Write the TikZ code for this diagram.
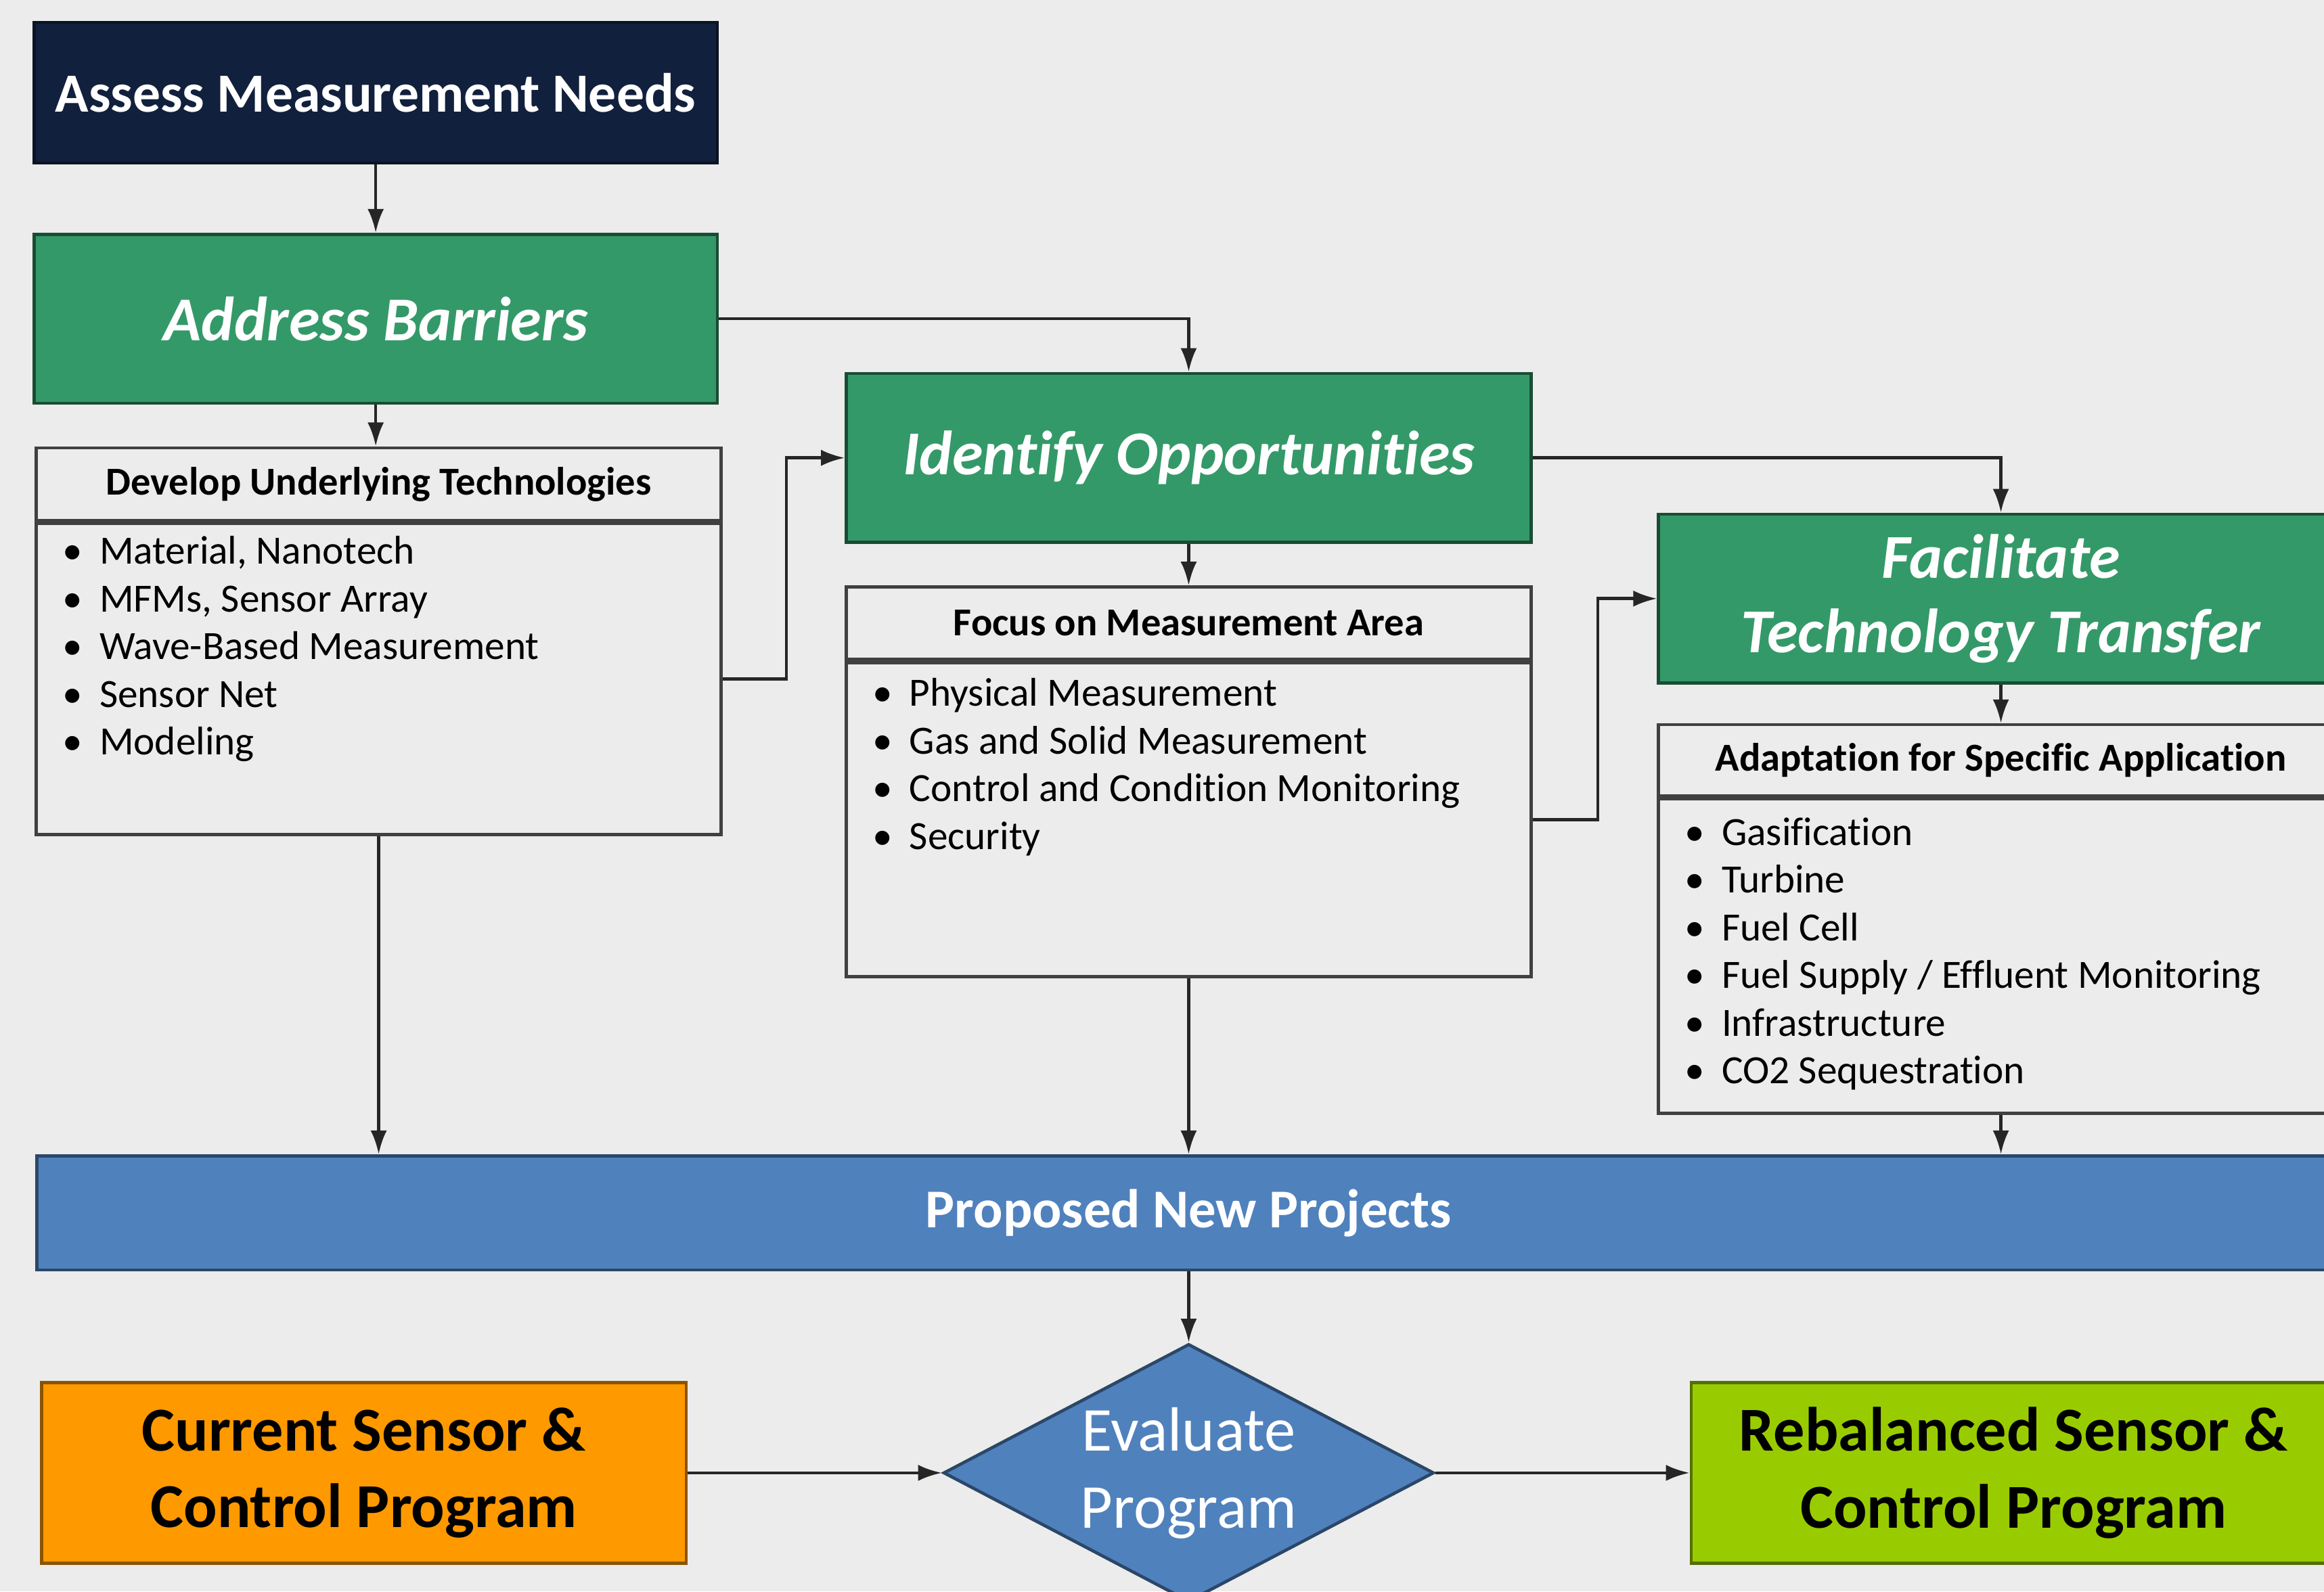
\documentclass[tikz,border=0pt]{standalone}
\usepackage{fontspec}
\setmainfont{Carlito}[Ligatures=NoCommon]
\usetikzlibrary{arrows.meta, positioning, shapes.geometric}
\definecolor{bggray}{RGB}{236,236,236}
\definecolor{navyblue}{RGB}{17,32,60}
\definecolor{stepgreen}{RGB}{52,153,104}
\definecolor{barblue}{RGB}{79,129,189}
\definecolor{myorange}{RGB}{255,153,0}
\definecolor{limegreen}{RGB}{153,204,0}
\newcommand{\listbullet}{\makebox[0.25cm][l]{\textbullet}}

\begin{document}
\begin{tikzpicture}[
    dark_box/.style={draw=navyblue!60!black, line width=0.6pt, fill=navyblue, text=white, minimum width=4.61cm, minimum height=0.95cm, font=\fontsize{10.6}{12}\selectfont\bfseries},
    green_box/.style={draw=stepgreen!50!black, line width=0.6pt, fill=stepgreen, text=white, minimum width=4.62cm, minimum height=1.14cm, align=center, font=\fontsize{12}{14.2}\selectfont\bfseries\itshape},
    head_box/.style={draw=black!75, line width=0.6pt, minimum width=4.62cm, minimum height=0.49cm, inner sep=0pt, font=\fontsize{7.6}{9}\selectfont\bfseries},
    body_box/.style={draw=black!75, line width=0.6pt, minimum width=4.62cm, inner sep=0pt},
    item_list/.style={anchor=north west, inner sep=0pt, align=left, font=\fontsize{7.7}{9.15}\selectfont},
    prog_box/.style={draw=#1!55!black, line width=0.6pt, fill=#1, minimum width=4.35cm, minimum height=1.22cm, align=center, font=\fontsize{12}{14.8}\selectfont\bfseries},
    arrow/.style={-{Latex[length=1.6mm, width=1.1mm]}, line width=0.6pt, draw=black!85}
]

    % Page frame and background
    \useasboundingbox (0,0) rectangle (15.68,10.74);
    \clip (0,0) rectangle (15.68,10.74);
    \fill[bggray] (0,0) rectangle (15.68,10.74);

    % Left column
    \node[dark_box] (assess_needs) at (2.535,10.115) {Assess Measurement Needs};
    \node[green_box, minimum width=4.61cm, below=0.46cm of assess_needs] (address_barriers) {Address Barriers};
    \node[head_box, below=0.28cm of address_barriers, xshift=0.02cm] (dev_head) {Develop Underlying Technologies};
    \node[body_box, minimum height=2.10cm, below=0pt of dev_head] (dev_body) {};
    \node[item_list] (dev_list) at ([xshift=0.18cm, yshift=-0.09cm]dev_body.north west) {\listbullet Material, Nanotech\\ \listbullet MFMs, Sensor Array\\ \listbullet Wave-Based Measurement\\ \listbullet Sensor Net\\ \listbullet Modeling};

    % Middle column
    \node[green_box] (identify_opp) at (8.02,7.65) {Identify Opportunities};
    \node[head_box, below=0.28cm of identify_opp] (focus_head) {Focus on Measurement Area};
    \node[body_box, minimum height=2.12cm, below=0pt of focus_head] (focus_body) {};
    \node[item_list] (focus_list) at ([xshift=0.18cm, yshift=-0.11cm]focus_body.north west) {\listbullet Physical Measurement\\ \listbullet Gas and Solid Measurement\\ \listbullet Control and Condition Monitoring\\ \listbullet Security};

    % Right column (runs off the page)
    \node[green_box] (facilitate_tt) at (13.50,6.70) {Facilitate\\Technology Transfer};
    \node[head_box, minimum height=0.48cm, below=0.26cm of facilitate_tt] (adapt_head) {Adaptation for Specific Application};
    \node[body_box, minimum height=2.12cm, below=0pt of adapt_head] (adapt_body) {};
    \node[item_list] (adapt_list) at ([xshift=0.18cm, yshift=-0.13cm]adapt_body.north west) {\listbullet Gasification\\ \listbullet Turbine\\ \listbullet Fuel Cell\\ \listbullet Fuel Supply / Effluent Monitoring\\ \listbullet Infrastructure\\ \listbullet CO2 Sequestration};

    % Projects bar and evaluation row
    \node[draw=barblue!55!black, line width=0.6pt, fill=barblue, text=white, minimum width=15.54cm, minimum height=0.77cm, font=\fontsize{10.5}{12}\selectfont\bfseries] (new_projects) at (8.02,2.555) {Proposed New Projects};
    \node[diamond, draw=barblue!55!black, line width=0.6pt, fill=barblue, text=white, minimum width=3.31cm, minimum height=1.74cm, aspect=1.9, inner sep=0pt, align=center, font=\fontsize{12}{14.8}\selectfont] (evaluate) at (8.02,0.80) {Evaluate\\Program};
    \node[prog_box=myorange] (current_prog) at (2.455,0.80) {Current Sensor \&\\Control Program};
    \node[prog_box=limegreen] (rebalanced_prog) at (13.585,0.80) {Rebalanced Sensor \&\\Control Program};

    % Connectors
    \draw[arrow] (assess_needs.south) -- (address_barriers.north);
    \draw[arrow] (address_barriers.south) -- (address_barriers.south |- dev_head.north);
    \draw[arrow] (address_barriers.east) -| (identify_opp.north);
    \draw[arrow] (dev_body.east) -- ++(0.43,0) |- (identify_opp.west);
    \draw[arrow] (identify_opp.south) -- (focus_head.north);
    \draw[arrow] (identify_opp.east) -| (facilitate_tt.north);
    \draw[arrow] (focus_body.east) -- ++(0.44,0) |- (facilitate_tt.west);
    \draw[arrow] (facilitate_tt.south) -- (adapt_head.north);

    % Everything feeds the projects bar
    \draw[arrow] (dev_body.south) -- (dev_body.south |- new_projects.north);
    \draw[arrow] (focus_body.south) -- (focus_body.south |- new_projects.north);
    \draw[arrow] (adapt_body.south) -- (adapt_body.south |- new_projects.north);
    \draw[arrow] (new_projects.south) -- (evaluate.north);
    \draw[arrow] (current_prog.east) -- (evaluate.west);
    \draw[arrow] (evaluate.east) -- (rebalanced_prog.west);

\end{tikzpicture}
\end{document}
